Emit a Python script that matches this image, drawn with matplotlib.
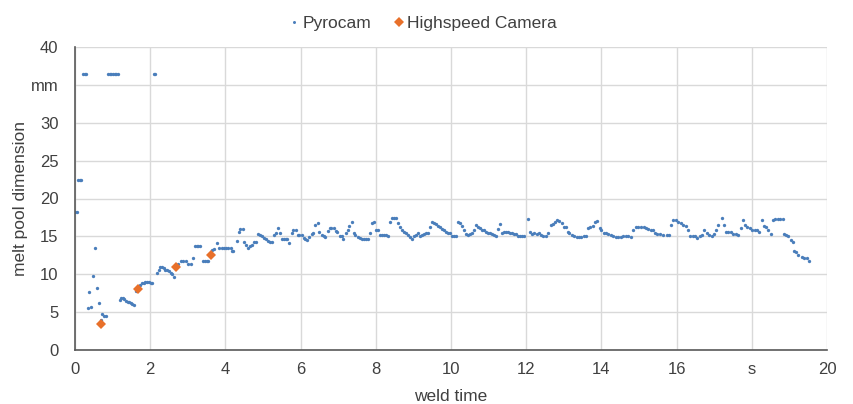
import matplotlib
matplotlib.use("Agg")
import matplotlib.pyplot as plt

# Pyrocam readings (weld time in s, melt pool dimension in mm)
pyro_t = [0.00, 0.04, 0.08, 0.12, 0.17, 0.21, 0.26, 0.30, 0.34, 0.38,
          0.43, 0.49, 0.54, 0.59, 0.64, 0.68, 0.73, 0.78, 0.83, 0.87,
          0.92, 0.96, 1.01, 1.06, 1.10, 1.15, 1.19, 1.23, 1.27, 1.31,
          1.35, 1.40, 1.44, 1.48, 1.52, 1.56, 1.61, 1.65, 1.70, 1.74,
          1.78, 1.83, 1.87, 1.92, 1.96, 2.01, 2.05, 2.09, 2.14, 2.19,
          2.23, 2.27, 2.31, 2.36, 2.40, 2.45, 2.49, 2.54, 2.58, 2.63,
          2.69, 2.75, 2.81, 2.88, 2.95, 3.01, 3.08, 3.15, 3.20, 3.24,
          3.28, 3.33, 3.41, 3.45, 3.50, 3.55, 3.59, 3.64, 3.70, 3.77,
          3.84, 3.90, 3.96, 4.02, 4.08, 4.14, 4.17, 4.21, 4.30, 4.35,
          4.40, 4.46, 4.49, 4.55, 4.61, 4.66, 4.72, 4.77, 4.82, 4.88,
          4.93, 4.98, 5.03, 5.08, 5.13, 5.18, 5.24, 5.29, 5.34, 5.39,
          5.44, 5.50, 5.55, 5.60, 5.65, 5.70, 5.76, 5.81, 5.87, 5.92,
          5.97, 6.03, 6.08, 6.13, 6.18, 6.23, 6.29, 6.34, 6.39, 6.45,
          6.50, 6.56, 6.61, 6.66, 6.72, 6.77, 6.82, 6.88, 6.93, 6.98,
          7.04, 7.09, 7.14, 7.20, 7.25, 7.30, 7.36, 7.41, 7.46, 7.52,
          7.57, 7.62, 7.68, 7.73, 7.79, 7.84, 7.89, 7.95, 8.00, 8.05,
          8.11, 8.16, 8.21, 8.27, 8.32, 8.38, 8.43, 8.48, 8.54, 8.59,
          8.64, 8.70, 8.75, 8.80, 8.86, 8.91, 8.96, 9.02, 9.07, 9.12,
          9.18, 9.23, 9.28, 9.34, 9.39, 9.44, 9.50, 9.55, 9.60, 9.66,
          9.71, 9.76, 9.82, 9.87, 9.92, 9.98, 10.03, 10.08, 10.14, 10.19,
          10.24, 10.30, 10.35, 10.40, 10.46, 10.51, 10.56, 10.62, 10.67, 10.72,
          10.78, 10.83, 10.88, 10.94, 10.99, 11.04, 11.10, 11.15, 11.20, 11.26,
          11.31, 11.36, 11.42, 11.47, 11.52, 11.58, 11.63, 11.68, 11.74, 11.79,
          11.84, 11.90, 11.95, 12.04, 12.10, 12.16, 12.22, 12.28, 12.34, 12.40,
          12.46, 12.53, 12.59, 12.65, 12.70, 12.77, 12.83, 12.88, 12.94, 13.00,
          13.06, 13.10, 13.15, 13.21, 13.27, 13.34, 13.41, 13.47, 13.53, 13.59,
          13.65, 13.71, 13.77, 13.83, 13.89, 13.95, 14.00, 14.07, 14.12, 14.18,
          14.25, 14.32, 14.39, 14.45, 14.51, 14.58, 14.65, 14.72, 14.78, 14.85,
          14.92, 14.98, 15.04, 15.12, 15.19, 15.25, 15.31, 15.36, 15.43, 15.49,
          15.56, 15.65, 15.74, 15.80, 15.85, 15.91, 15.98, 16.05, 16.11, 16.18,
          16.25, 16.31, 16.36, 16.43, 16.49, 16.55, 16.61, 16.67, 16.73, 16.80,
          16.87, 16.93, 17.00, 17.06, 17.11, 17.20, 17.26, 17.31, 17.38, 17.44,
          17.51, 17.58, 17.64, 17.70, 17.77, 17.82, 17.88, 17.95, 18.01, 18.08,
          18.14, 18.20, 18.26, 18.33, 18.38, 18.44, 18.50, 18.57, 18.63, 18.70,
          18.76, 18.82, 18.86, 18.91, 18.97, 19.03, 19.09, 19.12, 19.18, 19.24,
          19.33, 19.39, 19.46, 19.53]
pyro_v = [18.2, 18.2, 22.4, 22.4, 22.4, 36.4, 36.4, 36.4, 5.5, 7.7,
          5.7, 9.8, 13.5, 8.2, 6.2, 4.0, 4.8, 4.5, 4.5, 36.4,
          36.4, 36.4, 36.4, 36.4, 36.4, 36.4, 6.6, 6.8, 6.9, 6.7,
          6.5, 6.4, 6.3, 6.2, 6.1, 6.0, 7.8, 8.1, 8.4, 8.6,
          8.8, 8.9, 9.0, 9.0, 9.0, 8.9, 8.9, 36.4, 36.4, 10.2,
          10.6, 10.9, 11.0, 10.8, 10.5, 10.5, 10.4, 10.2, 10.0, 9.7,
          11.1, 11.4, 11.7, 11.8, 11.7, 11.4, 11.3, 12.1, 13.7, 13.7,
          13.7, 13.7, 11.8, 11.8, 11.8, 11.8, 12.8, 13.2, 13.3, 14.1,
          13.4, 13.4, 13.4, 13.4, 13.4, 13.4, 13.1, 13.1, 14.4, 15.6,
          16.0, 16.0, 14.3, 13.9, 13.4, 13.7, 13.9, 14.3, 14.3, 15.3,
          15.2, 15.0, 14.8, 14.6, 14.4, 14.3, 14.2, 15.2, 15.5, 16.1,
          15.5, 14.7, 14.7, 14.6, 14.6, 14.1, 15.4, 15.8, 15.9, 15.2,
          15.2, 15.2, 14.8, 14.7, 14.5, 14.9, 15.3, 15.5, 16.5, 16.7,
          15.6, 15.2, 15.0, 14.9, 15.7, 16.1, 16.1, 16.1, 15.7, 15.6,
          15.1, 15.0, 14.6, 15.4, 15.8, 16.4, 16.9, 15.4, 15.2, 14.9,
          14.8, 14.7, 14.7, 14.7, 14.7, 15.4, 16.7, 16.9, 15.9, 15.9,
          15.2, 15.2, 15.2, 15.2, 15.0, 16.9, 17.4, 17.4, 17.4, 16.8,
          16.3, 15.9, 15.6, 15.4, 15.2, 14.9, 14.7, 15.0, 15.2, 15.4,
          15.1, 15.2, 15.3, 15.4, 15.4, 16.2, 16.9, 16.8, 16.6, 16.4,
          16.2, 16.0, 15.9, 15.6, 15.4, 15.4, 15.0, 15.0, 15.0, 16.9,
          16.8, 16.4, 15.8, 15.3, 15.2, 15.3, 15.5, 15.9, 16.5, 16.3,
          16.1, 15.9, 15.8, 15.6, 15.5, 15.4, 15.3, 15.2, 15.0, 16.0,
          16.6, 15.4, 15.6, 15.6, 15.6, 15.4, 15.4, 15.3, 15.3, 15.0,
          15.0, 15.0, 15.0, 17.3, 15.6, 15.3, 15.5, 15.3, 15.4, 15.2,
          15.0, 15.0, 15.5, 16.5, 16.6, 16.9, 17.2, 17.0, 16.8, 16.3,
          16.2, 15.6, 15.4, 15.2, 15.0, 14.9, 14.9, 14.9, 15.0, 15.0,
          16.1, 16.3, 16.4, 16.9, 17.0, 16.1, 15.9, 15.5, 15.4, 15.3,
          15.2, 15.0, 14.9, 14.9, 14.9, 15.0, 15.1, 15.0, 14.9, 15.8,
          16.2, 16.3, 16.3, 16.3, 16.1, 16.0, 15.9, 15.8, 15.4, 15.3,
          15.3, 15.2, 15.2, 15.2, 16.5, 17.2, 17.1, 16.9, 16.7, 16.5,
          16.4, 15.8, 15.1, 15.0, 15.0, 14.8, 15.0, 15.2, 15.9, 15.4,
          15.2, 15.1, 15.3, 15.9, 16.5, 17.4, 16.5, 15.6, 15.6, 15.6,
          15.3, 15.3, 15.2, 16.1, 17.2, 16.5, 16.2, 16.1, 15.9, 15.8,
          15.8, 15.6, 17.2, 16.4, 16.3, 15.8, 15.3, 17.2, 17.3, 17.3,
          17.3, 17.3, 15.3, 15.2, 15.0, 14.5, 14.3, 13.1, 12.9, 12.5,
          12.3, 12.2, 12.1, 11.7]

# Highspeed camera measurements
cam_t = [0.68, 1.68, 2.69, 3.61]
cam_v = [3.4, 8.0, 11.0, 12.6]

x_ticks = [0, 2, 4, 6, 8, 10, 12, 14, 16, 18, 20]
x_labels = ["0", "2", "4", "6", "8", "10", "12", "14", "16", "s", "20"]
y_ticks = [0, 5, 10, 15, 20, 25, 30, 35, 40]
y_labels = ["0", "5", "10", "15", "20", "25", "30", "mm", "40"]

plt.rcParams["font.family"] = ["Liberation Sans", "DejaVu Sans"]
text_col = "#404040"

fig = plt.figure(figsize=(8.54, 4.04), dpi=100)
ax = fig.add_axes([75 / 854, 54 / 404, 752 / 854, 303 / 404])

ax.plot(pyro_t, pyro_v, "o", color="#4A7EBB", markersize=2.4,
        markeredgewidth=0, label="Pyrocam", zorder=3)
ax.plot(cam_t, cam_v, "D", color="#E8702A", markersize=5.5,
        markeredgewidth=0, label="Highspeed Camera", zorder=4)

ax.set_xlim(0, 20)
ax.set_ylim(0, 40)
ax.set_xticks(x_ticks)
ax.set_xticklabels(x_labels)
ax.set_yticks(y_ticks)
ax.set_yticklabels(y_labels)
ax.tick_params(axis="both", length=0, labelsize=12, colors=text_col)
ax.tick_params(axis="y", pad=12)
ax.tick_params(axis="x", pad=9)

ax.grid(True, color="#d9d9d9", linewidth=1.0)
ax.set_axisbelow(True)
for side in ["top", "right"]:
    ax.spines[side].set_visible(False)
for side in ["left", "bottom"]:
    ax.spines[side].set_color("#595959")
    ax.spines[side].set_linewidth(1.2)
    ax.spines[side].set_zorder(5)

ax.set_xlabel("weld time", fontsize=12.5, color=text_col, labelpad=8.5)
ax.set_ylabel("melt pool dimension", fontsize=12.5, color=text_col, labelpad=1.5)

fig.legend(loc="upper center", bbox_to_anchor=(0.495, 1.0), ncol=2,
           frameon=False, fontsize=12.5, handlelength=0.6, handletextpad=0.2,
           columnspacing=1.3, markerscale=0.9, labelcolor=text_col)

fig.savefig("out.png", dpi=100)
